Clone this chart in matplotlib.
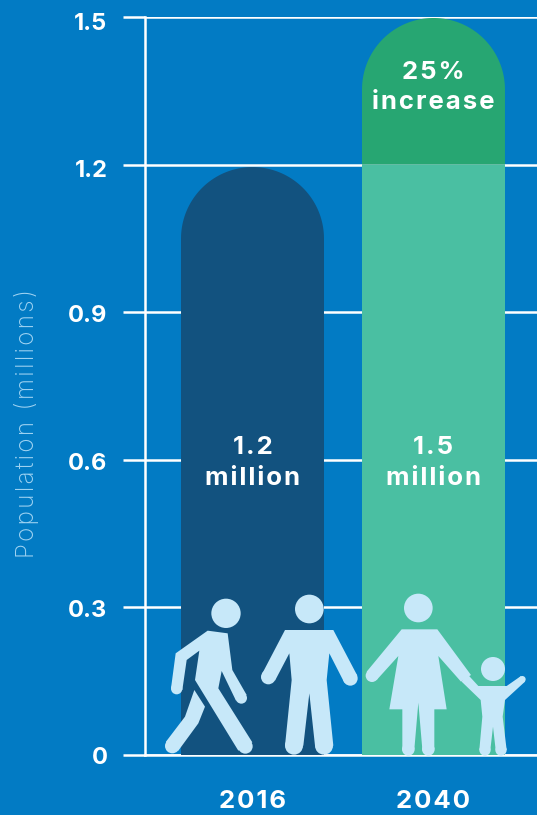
import matplotlib
matplotlib.use('Agg')
import matplotlib.pyplot as plt
import numpy as np
from matplotlib.patches import Circle, Polygon
from matplotlib.transforms import ScaledTranslation

# Population data (millions)
years = ['2016', '2040']
base_values = [1.195, 1.2]
extra_values = [0, 0.3]
y_ticks = [0, 0.3, 0.6, 0.9, 1.2, 1.5]
y_tick_labels = ['0', '0.3', '0.6', '0.9', '1.2', '1.5']
bar_labels = ['1.2\nmillion', '1.5\nmillion']
increase_label = '25%\nincrease'

BG = '#027bc4'
NAVY = '#12527f'
GREEN = '#4abfa2'
DARK_GREEN = '#27a672'
ICON = '#c7e8f9'
FONT = ['Inter', 'DejaVu Sans']

W, H = 537, 815
BAR_W = 0.79
LINE = 1.8


def spaced(s):
    # hair spaces between letters, the original type is tracked out
    return '\n'.join('\u200a'.join(part) for part in s.split('\n'))


fig = plt.figure(figsize=(W / 100, H / 100), dpi=100, facecolor=BG)
ax = fig.add_axes([145 / W, 1 - 755 / H, (W - 145) / W, 738 / H], facecolor=BG)
ax.set_xlim(-0.594, 1.572)
ax.set_ylim(0, 1.5)


def dome_bar(x, bottom, top, color):
    # bar with a round top, radius is half the bar width in pixels
    radius = (BAR_W / 2) * 181 / 492
    t = np.linspace(0, np.pi, 80)
    xs = x + BAR_W / 2 * np.cos(t)
    ys = top - radius + radius * np.sin(t)
    xs = np.concatenate([[x + BAR_W / 2], xs, [x - BAR_W / 2]])
    ys = np.concatenate([[bottom], ys, [bottom]])
    ax.fill(xs, ys, color=color, lw=0, zorder=3, clip_on=False)


positions = np.arange(len(years))
dome_bar(positions[0], 0, base_values[0], NAVY)
ax.bar(positions[1], base_values[1], BAR_W, color=GREEN, zorder=3)
dome_bar(positions[1], base_values[1], base_values[1] + extra_values[1] - 0.002, DARK_GREEN)

# Axes styling
ax.set_yticks(y_ticks)
ax.set_yticklabels(y_tick_labels, fontsize=17, fontweight='bold', color='white', family=FONT)
ax.set_xticks(positions)
ax.set_xticklabels([spaced(y) for y in years], fontsize=18.5, fontweight='bold', color='white', family=FONT)
ax.tick_params(axis='y', length=16, width=LINE, color='white', pad=11)
ax.tick_params(axis='x', length=0, pad=25)
ax.grid(True, axis='y', color='white', lw=LINE, zorder=1)
ax.set_axisbelow(True)
for side in ['top', 'right']:
    ax.spines[side].set_visible(False)
for side in ['left', 'bottom']:
    ax.spines[side].set_color('white')
    ax.spines[side].set_linewidth(LINE)

# tick labels sit a little under their lines in the original, more so higher up
for label, shift in zip(ax.get_yticklabels(), [0, 1.5, 1.5, 1, 3.5, 4]):
    label.set_transform(label.get_transform() + ScaledTranslation(0, -shift / 100, fig.dpi_scale_trans))

# Labels on bars
for pos, label in zip(positions, bar_labels):
    ax.text(pos, 0.594, spaced(label), ha='center', va='center', color='white', fontsize=18.5,
            fontweight='bold', family=FONT, linespacing=1.45, zorder=5)
ax.text(positions[1], 1.356, spaced(increase_label), ha='center', va='center', color='white', fontsize=18.5,
        fontweight='bold', family=FONT, linespacing=1.4, zorder=5)

fig.text(27 / W, 1 - 423 / H, spaced('Population (millions)'), rotation=90, ha='center', va='center',
         color='#9fd3f2', fontsize=17.5, family=FONT, fontweight='light')

# Pictogram layer, coordinates are pixels of the figure
icons = fig.add_axes([0, 0, 1, 1], facecolor='none', zorder=6)
icons.set_xlim(0, W)
icons.set_ylim(H, 0)
icons.axis('off')


def pt(p):
    return (150 + p[0] / 3, 580 + p[1] / 3)


def head(x, y, r):
    cx, cy = pt((x, y))
    icons.add_patch(Circle((cx, cy), r / 3, color=ICON, lw=0))


def cap(x, y, r):
    # round end of an arm or a leg
    cx, cy = pt((x, y))
    icons.add_patch(Circle((cx, cy), r / 3, color=ICON, lw=0))


def block(points):
    icons.add_patch(Polygon([pt(p) for p in points], closed=True, color=ICON, lw=0))


# walking man
head(228, 100, 44)
block([(173, 152), (233, 160), (247, 270), (290, 345), (258, 362), (215, 273), (205, 325), (307, 487), (265, 512),
       (135, 300), (148, 212), (110, 240), (97, 330), (63, 325), (77, 220)])
cap(80, 326, 17)
cap(274, 354, 17)
cap(286, 499, 22)
block([(133, 330), (165, 380), (145, 430), (85, 512), (48, 485), (105, 410)])
cap(67, 498, 22)

# standing man
head(478, 87, 43)
block([(405, 150), (550, 150), (622, 287), (583, 308), (538, 220), (530, 300), (550, 497), (495, 497), (478, 340),
       (460, 497), (405, 497), (425, 300), (418, 220), (375, 302), (336, 282)])
cap(432, 497, 27)
cap(522, 497, 27)
cap(355, 291, 22)
cap(601, 295, 22)

# woman
head(805, 84, 43)
block([(755, 148), (862, 148), (963, 285), (933, 305), (865, 228), (890, 388), (853, 388), (853, 508), (817, 508),
       (805, 368), (793, 508), (757, 508), (757, 388), (718, 388), (745, 228), (680, 300), (650, 275)])
cap(775, 508, 19)
cap(835, 508, 19)
cap(666, 287, 19)

# child, the left arm runs up into the woman's hand
head(1029, 267, 36)
block([(950, 280), (985, 318), (1070, 318), (1113, 288), (1125, 305), (1065, 360), (1058, 410), (1070, 510),
       (1037, 510), (1029, 440), (1021, 510), (988, 510), (997, 410), (992, 360), (935, 305)])
cap(1005, 510, 17)
cap(1053, 510, 17)
cap(1117, 298, 10)

plt.savefig('out.png', dpi=100, facecolor=BG)
